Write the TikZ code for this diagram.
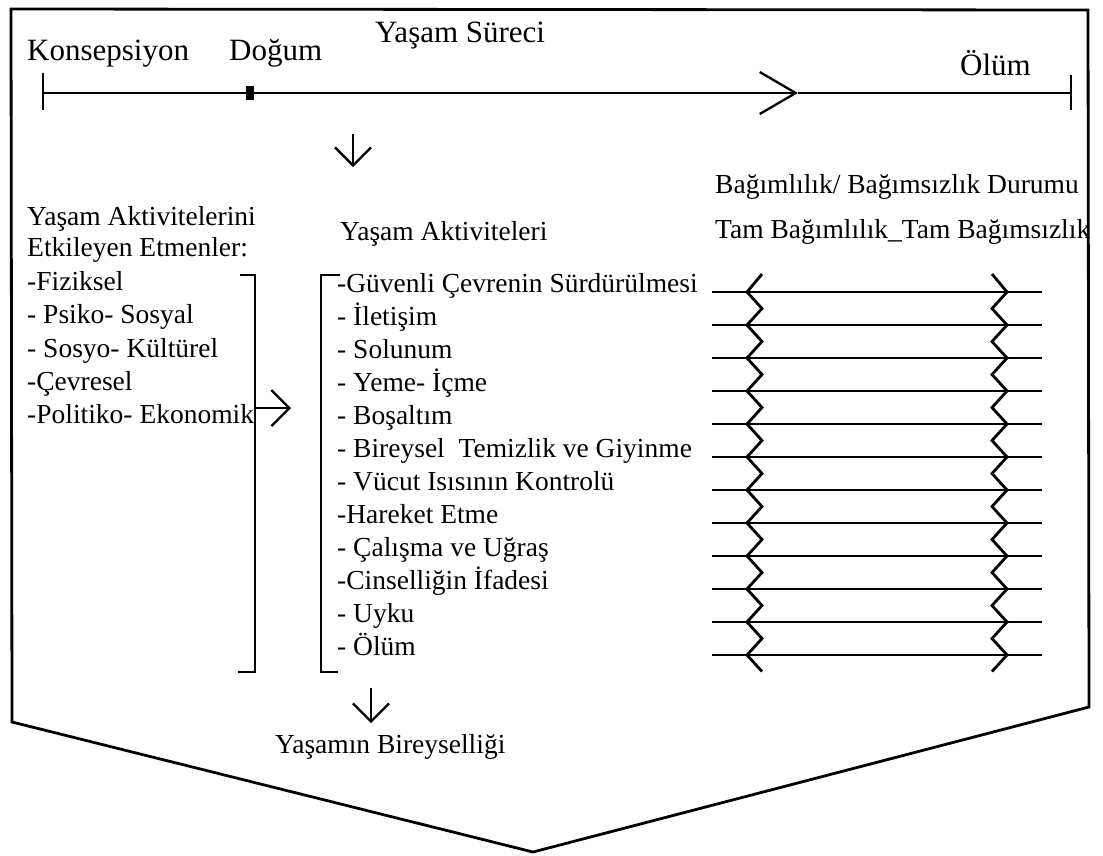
\documentclass[tikz,border=0pt]{standalone}
\usepackage{fontspec}
\setmainfont{Liberation Serif}
\usetikzlibrary{arrows.meta}
\begin{document}
\begin{tikzpicture}[x=1pt,y=-1pt,
  txt/.style={inner sep=0pt, anchor=base west, font=\fontsize{27.5}{33}\selectfont},
  bigtxt/.style={inner sep=0pt, anchor=base west, font=\fontsize{31}{36}\selectfont},
  ln/.style={line width=2.3pt},
  barb/.style={line width=2.3pt,-{Straight Barb[length=18pt,width=36pt]}},
  bigbarb/.style={line width=2.3pt,-{Straight Barb[length=36pt,width=42pt]}}
]
\useasboundingbox (0,0) rectangle (1103,855);
% outer pentagon
\draw[line width=2.8pt, line join=miter] (11,9) -- (1088,10) -- (1089,707) -- (533,852) -- (12,722) -- cycle;

% timeline
\node[bigtxt] (kons) at (27,60) {Konsepsiyon};
\node[bigtxt] (dog) at (229,60) {Doğum};
\node[bigtxt] (ys) at (375,42) {Yaşam Süreci};
\node[bigtxt] (olum) at (960,75) {Ölüm};
\coordinate (ts) at (43,93);
\coordinate (tm) at (798,93);
\coordinate (te) at (1071,93);
\draw[ln] (43,73) -- (43,110);
\draw[ln] (1071,75) -- (1071,110);
\draw[bigbarb] (ts) -- (tm);
\draw[ln] (tm) -- (te);
\fill (246,86) rectangle (254,100);

% top down arrow
\coordinate (a1s) at (353,134);
\coordinate (a1e) at (353,167);
\draw[barb] (a1s) -- (a1e);

% left column
\node[txt] (h1) at (27,225) {Yaşam Aktivitelerini};
\node[txt] (h2) at (27,256) {Etkileyen Etmenler:};
\node[txt] (f1) at (27,290) {-Fiziksel};
\node[txt] (f2) at (27,323) {- Psiko- Sosyal};
\node[txt] (f3) at (27,357) {- Sosyo- Kültürel};
\node[txt] (f4) at (27,390) {-Çevresel};
\node[txt] (f5) at (27,423) {-Politiko- Ekonomik};
\draw[ln] (240,275) -- (255,275) -- (255,672) -- (238,672);
\coordinate (lb) at (255,408);
\coordinate (mb) at (291,408);
\draw[barb] (lb) -- (mb);

% middle column
\node[txt] (mh) at (340,240) {Yaşam Aktiviteleri};
\draw[ln] (340,275) -- (321,275) -- (321,672) -- (338,672);
\foreach \t [count=\i from 0] in {-Güvenli Çevrenin Sürdürülmesi, - İletişim, - Solunum, - Yeme- İçme, - Boşaltım, - Bireysel\ \ Temizlik ve Giyinme, - Vücut Isısının Kontrolü, -Hareket Etme, - Çalışma ve Uğraş, -Cinselliğin İfadesi, - Uyku, - Ölüm}
  \node[txt] (m\i) at (337,{292+33*\i}) {\t};

% bottom arrow and label
\coordinate (a2s) at (371,688);
\coordinate (a2e) at (371,723);
\draw[barb] (a2s) -- (a2e);
\node[txt] (yb) at (275,753) {Yaşamın Bireyselliği};

% right column
\node[txt] (rh1) at (715,193) {Bağımlılık/ Bağımsızlık Durumu};
\node[txt] (rh2) at (715,238) {Tam Bağımlılık\_Tam Bağımsızlık};
\foreach \k in {0,...,11}
  \draw[line width=2.8pt] (712,{292+33*\k}) -- (1042,{292+33*\k});
\draw[line width=2.8pt, line join=miter] (762,274)
  \foreach \k in {0,...,11} { -- (747,{292+33*\k}) -- (762,{308.5+33*\k}) };
\draw[line width=2.8pt, line join=miter] (992,274)
  \foreach \k in {0,...,11} { -- (1007,{292+33*\k}) -- (992,{308.5+33*\k}) };
\end{tikzpicture}
\end{document}
